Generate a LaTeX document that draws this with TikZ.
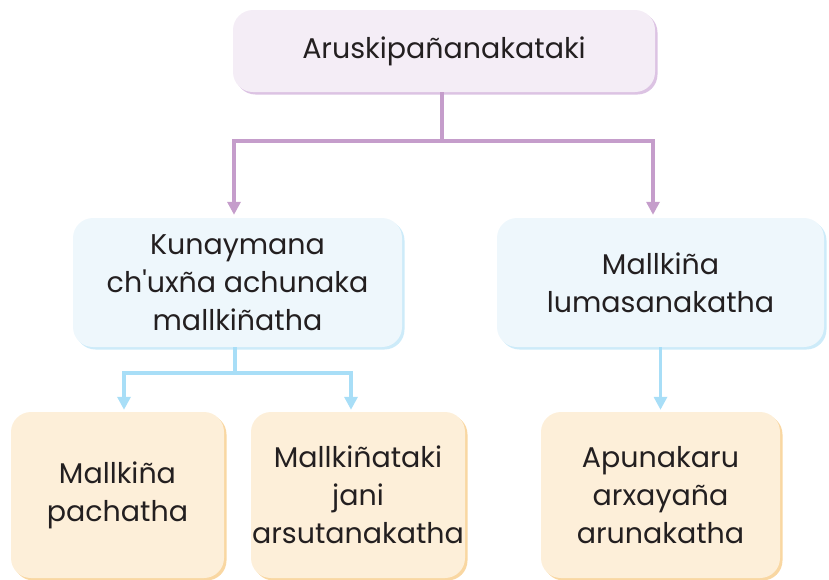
\documentclass[tikz,border=0pt]{standalone}
\usepackage{fontspec}
\setmainfont{Poppins}
\usetikzlibrary{arrows.meta,shadows}
\definecolor{txt}{HTML}{231F20}
\definecolor{lavfill}{HTML}{F4EDF6}
\definecolor{lavshadow}{HTML}{DCC3E3}
\definecolor{lavline}{HTML}{C59DCB}
\definecolor{bluefill}{HTML}{EEF7FC}
\definecolor{blueshadow}{HTML}{CDEBF9}
\definecolor{blueline}{HTML}{A8DEF7}
\definecolor{orfill}{HTML}{FDEFD9}
\definecolor{orshadow}{HTML}{F9D7A2}
\tikzset{
  box/.style={rounded corners=20pt, inner sep=0pt, align=center, text=txt,
    font=\fontsize{28.5}{38}\selectfont},
  topbox/.style={box, fill=lavfill, drop shadow={shadow xshift=2.5pt, shadow yshift=-2.5pt, fill=lavshadow, opacity=1}},
  midbox/.style={box, fill=bluefill, drop shadow={shadow xshift=2.5pt, shadow yshift=-2.5pt, fill=blueshadow, opacity=1}},
  lowbox/.style={box, fill=orfill, drop shadow={shadow xshift=2.5pt, shadow yshift=-2.5pt, fill=orshadow, opacity=1}},
  parrow/.style={draw=lavline, line width=3.2pt, -{Triangle[width=13pt,length=13pt]}, color=lavline},
  pline/.style={draw=lavline, line width=3.2pt},
  barrow/.style={draw=blueline, line width=3.2pt, -{Triangle[width=13pt,length=13pt]}, color=blueline},
  bline/.style={draw=blueline, line width=3.2pt},
}
\begin{document}
\begin{tikzpicture}[x=1pt,y=-1pt]
\useasboundingbox (0,0) rectangle (829,579);
\node[topbox, minimum width=422pt, minimum height=82pt] (top) at (444,51) {Aruskipañanakataki};
\node[midbox, minimum width=329pt, minimum height=129pt] (lm) at (237.5,282.5) {Kunaymana\\ch\textquotesingle uxña achunaka\\mallkiñatha};
\node[midbox, minimum width=327pt, minimum height=129pt] (rm) at (660.5,282.5) {Mallkiña\\lumasanakatha};
\node[lowbox, minimum width=213pt, minimum height=166pt] (bl) at (117.5,495) {Mallkiña\\pachatha};
\node[lowbox, minimum width=214pt, minimum height=166pt] (bm) at (358,495) {Mallkiñataki\\jani\\arsutanakatha};
\node[lowbox, minimum width=239pt, minimum height=166pt] (br) at (660.5,495) {Apunakaru\\arxayaña\\arunakatha};
\coordinate (j1) at (442,141);
\coordinate (j2) at (235,373);
\draw[pline] (top.south -| j1) -- (j1);
\draw[parrow] (j1) -| ([xshift=-3.5pt,yshift=3pt]lm.north);
\draw[parrow] (j1) -| ([xshift=-7.5pt,yshift=3pt]rm.north);
\draw[bline] (lm.south -| j2) -- (j2);
\draw[barrow] (j2) -| ([xshift=6.5pt,yshift=2pt]bl.north);
\draw[barrow] (j2) -| ([xshift=-7pt,yshift=2pt]bm.north);
\draw[barrow] (rm.south) -- ([yshift=2pt]br.north);
\end{tikzpicture}
\end{document}
